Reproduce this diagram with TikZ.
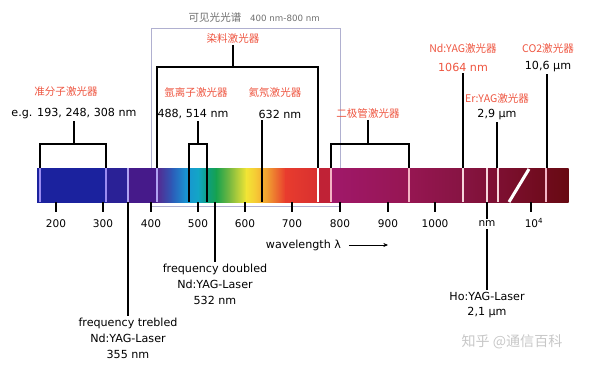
\documentclass[tikz,border=0pt]{standalone}
\usepackage{fontspec}
\setmainfont{DejaVu Sans}
\newfontfamily\cjk{Noto Sans CJK SC}
\usetikzlibrary{positioning, arrows.meta, calc}

\definecolor{lasred}{HTML}{EE5540}
\definecolor{titlegrey}{HTML}{6E6E6E}
\definecolor{visline}{HTML}{B0B0D0}
\definecolor{lavA}{HTML}{9A8CF2}
\definecolor{lavB}{HTML}{B0A2F2}
\definecolor{pinkA}{HTML}{F4B4C4}
\definecolor{pinkB}{HTML}{F6D6DC}
% spectrum colours
\definecolor{sp1}{HTML}{1B229E}
\definecolor{sp2}{HTML}{2A2196}
\definecolor{sp3}{HTML}{461A8A}
\definecolor{sp4}{HTML}{562890}
\definecolor{sp5}{HTML}{2C5CB8}
\definecolor{sp6}{HTML}{1A92D2}
\definecolor{sp7}{HTML}{12A6C6}
\definecolor{sp8}{HTML}{0E9E80}
\definecolor{sp9}{HTML}{16A24E}
\definecolor{sp10}{HTML}{7CBA40}
\definecolor{sp11}{HTML}{F2E535}
\definecolor{sp12}{HTML}{F6C835}
\definecolor{sp13}{HTML}{F09A30}
\definecolor{sp14}{HTML}{E83C2E}
\definecolor{sp15}{HTML}{D83030}
\definecolor{sp16}{HTML}{C02236}
\definecolor{sp17}{HTML}{A0186A}
\definecolor{sp18}{HTML}{961652}
\definecolor{sp19}{HTML}{861442}
\definecolor{sp20}{HTML}{7A0E2C}
\definecolor{sp21}{HTML}{680A12}

\begin{document}
\begin{tikzpicture}[x=0.03cm, y=-0.03cm,
    every node/.style={inner sep=1.5pt},
    laser/.style={font=\cjk\fontsize{9}{11}\selectfont, text=lasred},
    value/.style={font=\fontsize{9.5}{13.6}\selectfont, align=center},
    ticklabel/.style={font=\fontsize{9}{11}\selectfont},
    link/.style={line width=0.9pt},
    barline/.style={line width=1pt},
    visbox/.style={draw=visline, line width=0.7pt},
    arrow/.style={-{Stealth[length=4pt, width=3.5pt]}, line width=0.6pt}]

  \useasboundingbox (0,0) rectangle (592,365);

  % visible range frame
  \node[font=\cjk\fontsize{9}{11}\selectfont, text=titlegrey] (vis) at (215,17) {可见光光谱};
  \node[font=\fontsize{7.4}{9}\selectfont, text=titlegrey] (visrange) at (285,18) {400 nm-800 nm};
  \draw[visbox] (151,28) rectangle (340,206);

  % spectrum bar
  \foreach \xa/\ca/\xb/\cb in {37/sp1/106/sp1, 106/sp2/128/sp2, 128/sp3/157/sp3,
      157/sp4/172/sp5, 172/sp5/185/sp6, 185/sp6/198/sp7, 198/sp7/207/sp8,
      207/sp8/216/sp9, 216/sp9/230/sp10, 230/sp10/246/sp11, 246/sp11/256/sp12,
      256/sp12/268/sp13, 268/sp13/285/sp14, 285/sp14/318/sp15, 318/sp16/331/sp16,
      331/sp17/409/sp18, 409/sp18/463/sp19, 463/sp19/510/sp20, 510/sp20/568/sp21}
    \shade[left color=\ca, right color=\cb] (\xa,168) rectangle (\xb+0.6,202);
  \foreach \x/\c in {40/lavA, 106/lavA, 128/lavB, 157/lavB, 318/white, 331/pinkA,
      409/pinkA, 463/pinkB, 487/pinkB, 498/pinkB, 546/pinkA}
    \draw[barline, \c] (\x,168) -- (\x,202);
  \draw[white, line width=2.6pt] (509,202) -- (529,169);

  % lasers above the bar
  \node[laser] (excimer) at (66,92) {准分子激光器};
  \node[value] (excimerv) at (74,114) {e.g. 193, 248, 308 nm};
  \node[laser] (dye) at (233,38) {染料激光器};
  \node[laser] (argon) at (196,92) {氩离子激光器};
  \node[value] (argonv) at (193,114) {488, 514 nm};
  \node[laser] (hene) at (275,92) {氦氖激光器};
  \node[value] (henev) at (280,114) {632 nm};
  \node[laser] (diode) at (368,113) {二极管激光器};
  \node[laser] (ndyag) at (463,48) {Nd:YAG激光器};
  \node[value, text=lasred] (ndyagv) at (463,67) {1064 nm};
  \node[laser] (co2) at (548,48) {CO2激光器};
  \node[value] (co2v) at (548,67) {10,6 µm};
  \node[laser] (eryag) at (497,98) {Er:YAG激光器};
  \node[value] (eryagv) at (497,115) {2,9 µm};

  \coordinate (exc-top) at (74,144);
  \coordinate (exc-l) at (40,168);
  \coordinate (exc-r) at (106,168);
  \coordinate (dye-top) at (233,67);
  \coordinate (dye-l) at (157,168);
  \coordinate (dye-r) at (318,168);
  \coordinate (ar-top) at (198,144);
  \coordinate (ar-l) at (189,202);
  \coordinate (ar-r) at (207,202);
  \coordinate (hene-end) at (262,202);
  \coordinate (di-top) at (368,144);
  \coordinate (di-l) at (331,168);
  \coordinate (di-r) at (409,168);
  \coordinate (nd-end) at (463,168);
  \coordinate (co2-end) at (547,168);
  \coordinate (er-end) at (497,168);

  \draw[link] (excimerv) -- (exc-top);
  \draw[link] (exc-l) |- (exc-top) -| (exc-r);
  \draw[link] (dye) -- (dye-top);
  \draw[link] (dye-l) |- (dye-top) -| (dye-r);
  \draw[link] (ar-top |- argonv.south) -- (ar-top);
  \draw[link] (ar-l) |- (ar-top) -| (ar-r);
  \draw[link] (hene-end |- henev.south) -- (hene-end);
  \draw[link] (diode) -- (di-top);
  \draw[link] (di-l) |- (di-top) -| (di-r);
  \draw[link] (ndyagv) -- (nd-end);
  \draw[link] (co2-end |- co2v.south) -- (co2-end);
  \draw[link] (eryagv) -- (er-end);

  % scale
  \foreach \x/\t in {56/200, 103/300, 151/400, 198/500, 245/600, 292/700,
      340/800, 388/900, 435/1000, 531/10000} {
    \coordinate (tk\t) at (\x,202);
    \draw[link] (tk\t) -- ++(0,10);
  }
  \foreach \x/\t in {56/200, 103/300, 151/400, 198/500, 245/600, 292/700,
      340/800, 388/900, 435/1000}
    \node[ticklabel] (lb\t) at (\x,224) {\t};
  \node[ticklabel] (lb10000) at (534,223) {10\textsuperscript{4}};
  \node[ticklabel] (nm) at (487,224) {nm};
  \node[value, anchor=west] (wavelen) at (264,245) {wavelength λ};
  \coordinate (wl-end) at (388,244);
  \draw[arrow, shorten <=5pt] (wavelen.east) -- (wavelen.east -| wl-end);

  % lasers below the bar
  \coordinate (tre-start) at (128,202);
  \coordinate (dbl-start) at (215,202);
  \coordinate (ho-start) at (487,202);
  \node[value] (trebled) at (128,338) {frequency trebled\\Nd:YAG-Laser\\355 nm};
  \node[value] (doubled) at (215,284) {frequency doubled\\Nd:YAG-Laser\\532 nm};
  \node[value] (hoyag) at (487,305) {Ho:YAG-Laser\\2,1 µm};
  \draw[link] (tre-start) -- (trebled);
  \draw[link] (dbl-start) -- (doubled);
  \draw[link] (ho-start) -- (nm);
  \draw[link] (nm) -- (hoyag);

  \node[font=\cjk\fontsize{12}{14}\selectfont, text=black!22] (mark) at (512,342) {知乎 @通信百科};
\end{tikzpicture}
\end{document}
